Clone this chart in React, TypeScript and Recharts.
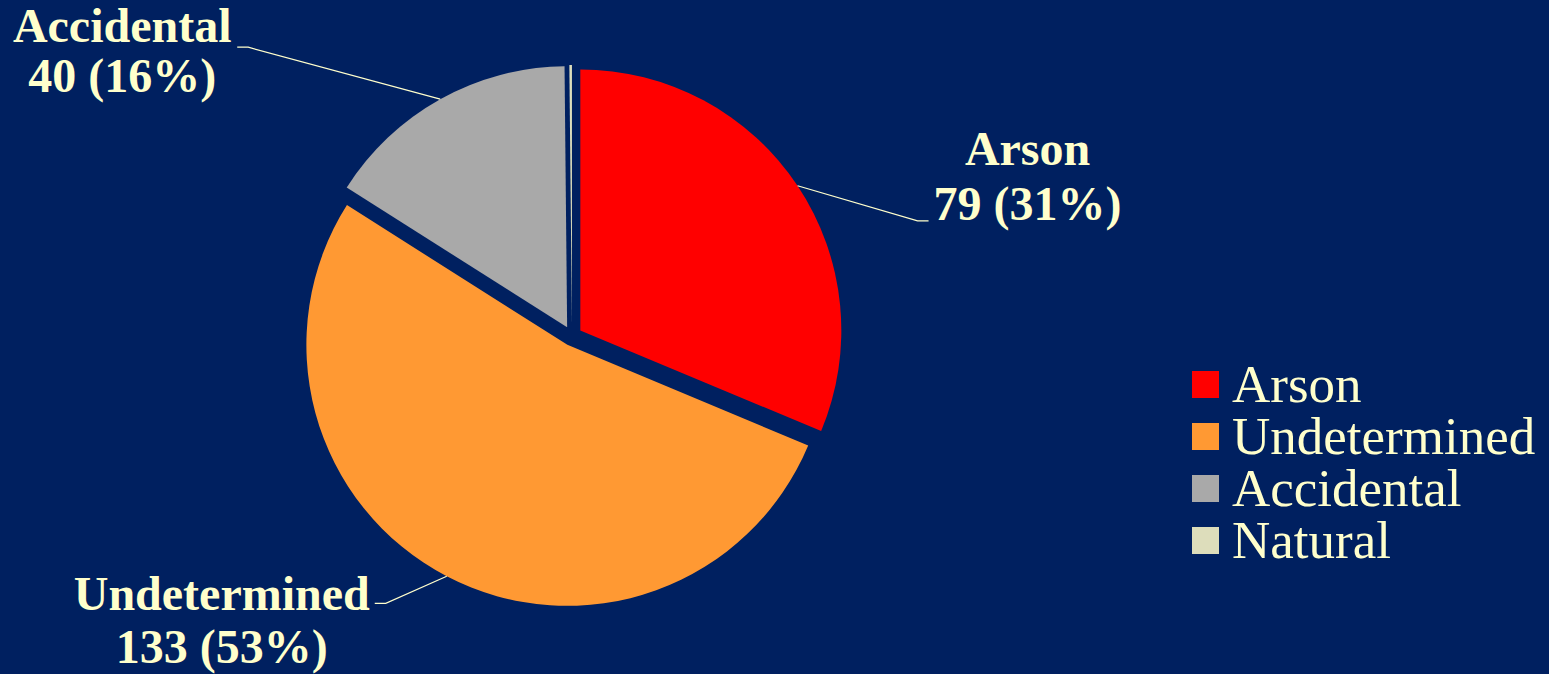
import { Cell, Legend, Pie, PieChart } from "recharts";

const categories = ["Arson", "Undetermined", "Accidental", "Natural"];
const counts = [79, 133, 40, 0.4]; // Natural is only a hairline sliver in the picture
const colors = ["#FF0000", "#FF9933", "#A9A9A9", "#DDDDBB"];

const WIDTH = 1549;
const HEIGHT = 674;
const CX = 572;
const CY = 336;
const RADIUS = 261;
const EXPLODE = 10;
const BG = "#002060";
const INK = "#FFFFCC";
const FONT = '"Liberation Serif", "Times New Roman", serif';
const RADIAN = Math.PI / 180;

// leader line elbow (from the slice edge) and text position (from the line end)
const labelPlacement: Record<string, { elbow: [number, number]; tail: number; textDx: number; dy1: number; dy2: number }> = {
  Arson: { elbow: [120, 35], tail: 11, textDx: 99, dy1: -56, dy2: -1 },
  Undetermined: { elbow: [-61, 27], tail: -11, textDx: -153, dy1: 7, dy2: 60 },
  Accidental: { elbow: [-192, -52], tail: -11, textDx: -115, dy1: -5, dy2: 45 },
};

const total = counts.reduce((a, b) => a + b, 0);
const data = categories.map((name, i) => ({ name, value: counts[i] }));

// offset of each exploded slice, along its mid angle
const offsets = counts.map((v, i) => {
  const before = counts.slice(0, i).reduce((a, b) => a + b, 0);
  const mid = ((before + v / 2) / total) * 360;
  return { dx: EXPLODE * Math.sin(mid * RADIAN), dy: -EXPLODE * Math.cos(mid * RADIAN) };
});

function makeLabel(slice: number) {
  return (props: any) => {
    const { cx, cy, midAngle, outerRadius, index, name, value } = props;
    if (index !== slice) return null;
    const place = labelPlacement[name];
    if (!place) return null;
    const x0 = cx + outerRadius * Math.cos(-midAngle * RADIAN);
    const y0 = cy + outerRadius * Math.sin(-midAngle * RADIAN);
    const x1 = x0 + place.elbow[0];
    const y1 = y0 + place.elbow[1];
    const x2 = x1 + place.tail;
    const pct = Math.round((value / total) * 100);
    return (
      <g>
        <polyline
          points={`${x0},${y0} ${x1},${y1} ${x2},${y1}`}
          fill="none"
          stroke={INK}
          strokeWidth={1.2}
        />
        <text
          x={x2 + place.textDx}
          y={y1 + place.dy1}
          textAnchor="middle"
          fill={INK}
          fontFamily={FONT}
          fontWeight="bold"
          fontSize={48}
        >
          {name}
        </text>
        <text
          x={x2 + place.textDx}
          y={y1 + place.dy2}
          textAnchor="middle"
          fill={INK}
          fontFamily={FONT}
          fontWeight="bold"
          fontSize={48}
        >
          {`${value} (${pct}%)`}
        </text>
      </g>
    );
  };
}

function LegendList() {
  return (
    <div style={{ fontFamily: FONT, fontSize: 53, lineHeight: "52px", color: INK }}>
      {categories.map((name, i) => (
        <div key={name} style={{ display: "flex", alignItems: "center" }}>
          <span style={{ width: 27, height: 27, background: colors[i], marginRight: 13 }} />
          <span>{name}</span>
        </div>
      ))}
    </div>
  );
}

export default function App() {
  return (
    <div style={{ position: "absolute", left: 0, top: 0, width: WIDTH, height: HEIGHT, background: BG }}>
      <PieChart width={WIDTH} height={HEIGHT} margin={{ top: 0, right: 0, bottom: 0, left: 0 }}>
        {categories.map((cat, k) => (
          <Pie
            key={cat}
            data={data}
            dataKey="value"
            nameKey="name"
            cx={CX + offsets[k].dx}
            cy={CY + offsets[k].dy}
            outerRadius={RADIUS}
            startAngle={90}
            endAngle={-270}
            stroke="none"
            label={makeLabel(k)}
            labelLine={false}
            isAnimationActive={false}
          >
            {data.map((d, i) => (
              <Cell key={d.name} fill={i === k ? colors[i] : "transparent"} />
            ))}
          </Pie>
        ))}
        <Legend
          layout="vertical"
          align="right"
          verticalAlign="top"
          content={() => <LegendList />}
          wrapperStyle={{ left: 1192, top: 358, right: "auto", width: 357 }}
        />
      </PieChart>
    </div>
  );
}
